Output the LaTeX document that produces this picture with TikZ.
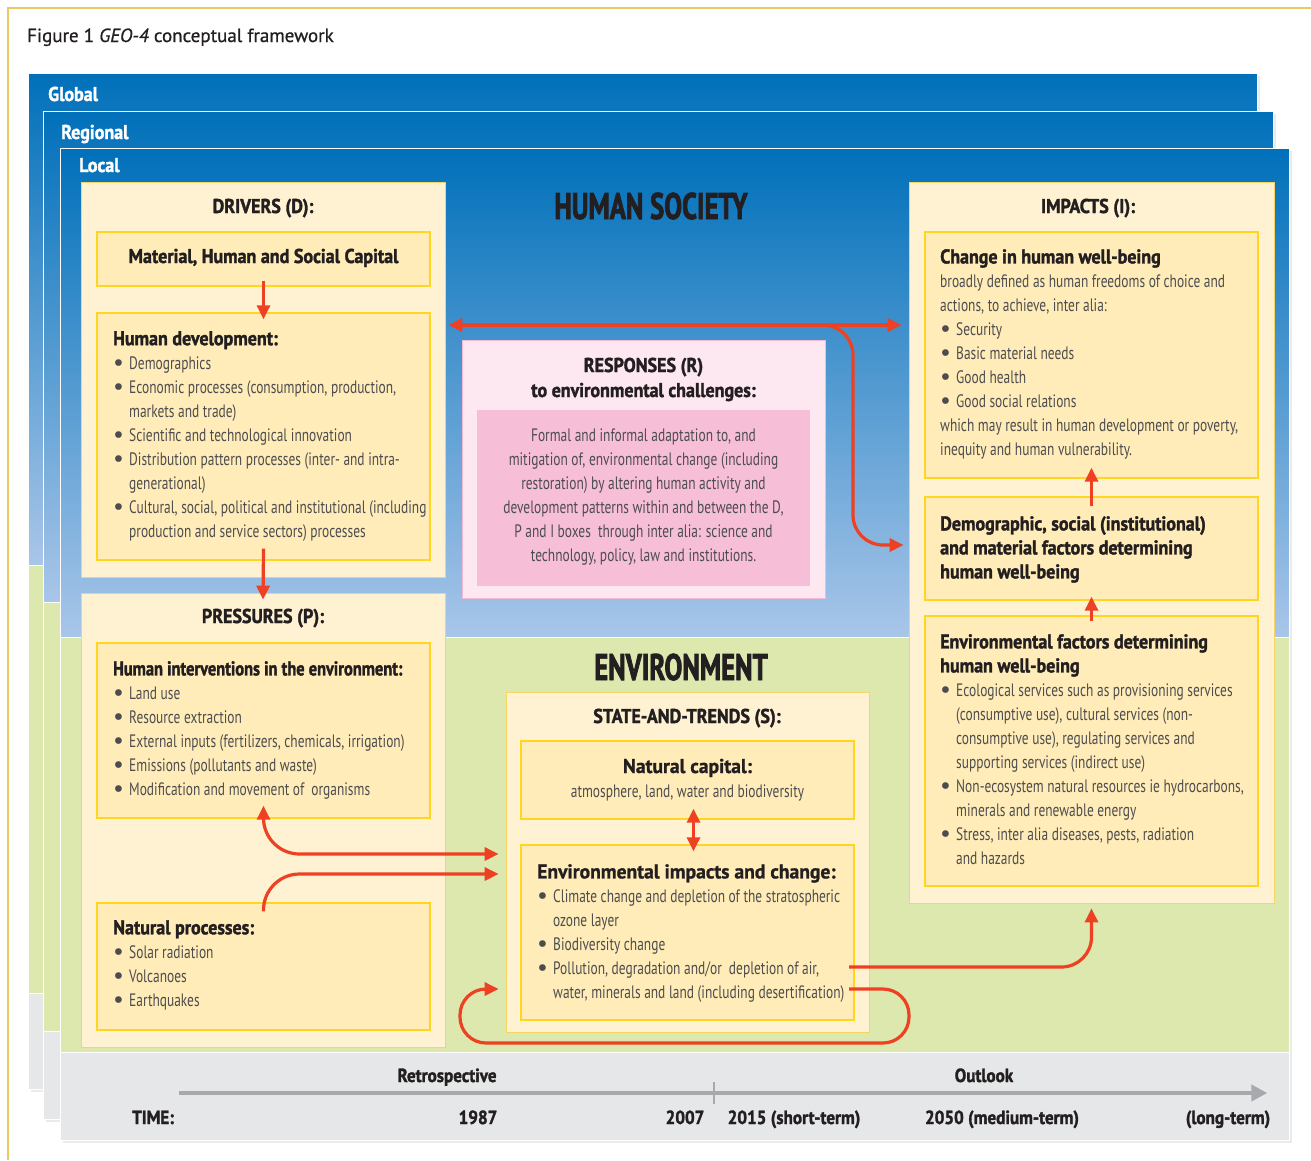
\documentclass[tikz,border=0pt]{standalone}
\usepackage{fontspec}
\setmainfont{PT Sans}[FakeStretch=0.745,BoldFeatures={FakeStretch=0.9,FakeBold=1.6}]
\newfontfamily\titlefont{PT Sans}[FakeBold=0.8]
\newfontfamily\dotfont{PT Sans}
\newfontfamily\bigfont{PT Sans}[FakeStretch=0.72,BoldFeatures={FakeBold=2}]
\newfontfamily\tightfont{PT Sans}[FakeStretch=0.82,BoldFeatures={FakeBold=1.6}]
\newfontfamily\widefont{PT Sans}[FakeStretch=0.98,BoldFeatures={FakeBold=1}]
\usetikzlibrary{arrows.meta}

\definecolor{frame}{HTML}{EBC766}
\definecolor{bluetop}{HTML}{0070BA}
\definecolor{bluemid}{HTML}{5896D2}
\definecolor{bluebot}{HTML}{A9C6E9}
\definecolor{leaf}{HTML}{DCE8AD}
\definecolor{mist}{HTML}{E6E7E8}
\definecolor{cream}{HTML}{FFF2D3}
\definecolor{outline}{HTML}{F6D565}
\definecolor{boxfill}{HTML}{FFECB8}
\definecolor{boxline}{HTML}{FFD520}
\definecolor{blush}{HTML}{FDE8F1}
\definecolor{blushline}{HTML}{F4B8D3}
\definecolor{rose}{HTML}{F7BED8}
\definecolor{arrred}{HTML}{EE4023}
\definecolor{ink}{HTML}{231F20}
\definecolor{greytext}{HTML}{4D4D4F}
\definecolor{timegrey}{HTML}{A7A9AC}

\newcommand\bul{\makebox[16pt][l]{\raisebox{-1pt}{\dotfont\fontsize{24}{24}\selectfont\textbullet}}}
\newcommand\ind{\hspace*{16pt}}

\begin{document}
\begin{tikzpicture}[x=1pt, y=-1pt,
  >={Triangle[length=14pt,width=13pt]},
  outbox/.style={draw=outline, fill=cream, line width=0.8pt, inner sep=0pt},
  inbox/.style={draw=boxline, fill=boxfill, line width=1.4pt, inner sep=0pt},
  pinkbox/.style={draw=blushline, fill=blush, line width=0.8pt, inner sep=0pt},
  head/.style={font=\bfseries\fontsize{20}{24}\selectfont, text=ink, inner sep=0pt, anchor=base},
  body/.style={font=\fontsize{18}{24}\selectfont, text=greytext, align=left, inner sep=0pt, anchor=north west},
  layer/.style={font=\bfseries\fontsize{20}{24}\selectfont, text=white, inner sep=0pt, anchor=base west},
  big/.style={font=\bigfont\bfseries\fontsize{37}{40}\selectfont, text=ink, inner sep=0pt, anchor=base},
  tick/.style={font=\bfseries\fontsize{19}{22}\selectfont, text=ink, inner sep=0pt, anchor=base},
  flow/.style={draw=arrred, line width=3.2pt, rounded corners=30pt}]

  \useasboundingbox (0,0) rectangle (1311,1160);
  \fill[white] (0,0) rectangle (1311,1160);
  \draw[frame, line width=1.2pt] (8,1160) -- (8,8) -- (1311,8);
  \node (fig) at (27,42) [anchor=base west, inner sep=0pt, text=ink,
    font=\titlefont\fontsize{19}{22}\selectfont] {Figure 1 \textit{GEO-4} conceptual framework};

  \foreach \l/\t/\r/\b/\g/\s in {28/73/1257/565/993/1089, 43/111/1273/602/1031/1119, 60/148/1289/637/1052/1140} {
    \fill[black!8] ({\l+3},{\t+3}) rectangle ({\r+3},{\s+3});
    \fill[top color=bluetop, middle color=bluemid, bottom color=bluebot] (\l,\t) rectangle (\r,\b);
    \fill[leaf] (\l,\b) rectangle (\r,\g);
    \fill[mist] (\l,\g) rectangle (\r,\s);
    \draw[white, line width=1pt] (\l,\t) rectangle (\r,\s) (\l,\b) -- (\r,\b) (\l,\g) -- (\r,\g);
  }

  \node (glob) at (48,101) [layer] {Global};
  \node (regi) at (61,139) [layer] {Regional};
  \node (loca) at (79,172) [layer] {Local};

  \node (hsoc) at (651,219) [big] {HUMAN SOCIETY};
  \node (envr) at (681,680) [big] {ENVIRONMENT};

  % drivers
  \node (drv) at (263,379.5) [outbox, minimum width=364pt, minimum height=395pt] {};
  \node (drvt) at (263,213) [head] {DRIVERS (D):};
  \node (cap) at (263.5,259) [inbox, minimum width=333pt, minimum height=54pt] {};
  \node (capt) at (263.5,263) [head] {Material, Human and Social Capital};
  \node (hdev) at (263.5,436.5) [inbox, minimum width=333pt, minimum height=247pt] {};
  \node (hdevt) at (113,331) [body] {\textbf{\textcolor{ink}{\fontsize{20}{24}\selectfont Human development:}}\\
    \bul Demographics\\
    \bul Economic processes (consumption, production,\\
    \ind markets and trade)\\
    \bul Scientific and technological innovation\\
    \bul Distribution pattern processes (inter- and intra-\\
    \ind generational)\\
    \bul Cultural, social, political and institutional (including\\
    \ind production and service sectors) processes};

  % pressures
  \node (pres) at (263,820) [outbox, minimum width=364pt, minimum height=454pt] {};
  \node (prest) at (263,623) [head] {PRESSURES (P):};
  \node (hint) at (263.5,730.5) [inbox, minimum width=333pt, minimum height=175pt] {};
  \node (hintt) at (113,661) [body] {\textbf{\textcolor{ink}{\tightfont\fontsize{20}{24}\selectfont Human interventions in the environment:}}\\
    \bul Land use\\
    \bul Resource extraction\\
    \bul External inputs (fertilizers, chemicals, irrigation)\\
    \bul Emissions (pollutants and waste)\\
    \bul Modification and movement of\ \ organisms};
  \node (nat) at (263.5,966.5) [inbox, minimum width=333pt, minimum height=127pt] {};
  \node (natt) at (113,920) [body] {\textbf{\textcolor{ink}{\fontsize{20}{24}\selectfont Natural processes:}}\\
    \bul Solar radiation\\
    \bul Volcanoes\\
    \bul Earthquakes};

  % responses
  \node (resp) at (643.5,469) [pinkbox, minimum width=363pt, minimum height=258pt] {};
  \node (respt) at (643.5,372) [head] {RESPONSES (R)};
  \node (respu) at (643.5,397) [head] {to environmental challenges:};
  \node (rbox) at (643.5,498) [fill=rose, inner sep=0pt, minimum width=333pt, minimum height=176pt] {};
  \node (rboxt) at (643.5,429) [body, align=center, anchor=north] {Formal and informal adaptation to, and\\
    mitigation of, environmental change (including\\
    restoration) by altering human activity and\\
    development patterns within and between the D,\\
    P and I boxes\ \ through inter alia: science and\\
    technology, policy, law and institutions.};

  % impacts
  \node (imp) at (1091.5,542.5) [outbox, minimum width=365pt, minimum height=721pt] {};
  \node (impt) at (1088,213) [head] {IMPACTS (I):};
  \node (chg) at (1091.5,355) [inbox, minimum width=333pt, minimum height=246pt] {};
  \node (chgt) at (940,249) [body] {\textbf{\textcolor{ink}{\fontsize{20}{24}\selectfont Change in human well-being}}\\
    broadly defined as human freedoms of choice and\\
    actions, to achieve, inter alia:\\
    \bul Security\\
    \bul Basic material needs\\
    \bul Good health\\
    \bul Good social relations\\
    which may result in human development or poverty,\\
    inequity and human vulnerability.};
  \node (dem) at (1091.5,548.5) [inbox, minimum width=333pt, minimum height=103pt] {};
  \node (demt) at (940,516) [body, text=ink, font=\bfseries\fontsize{20}{24}\selectfont] {Demographic, social (institutional)\\
    and material factors determining\\
    human well-being};
  \node (envf) at (1091.5,751) [inbox, minimum width=333pt, minimum height=270pt] {};
  \node (envft) at (940,634) [body] {\textbf{\textcolor{ink}{\fontsize{20}{24}\selectfont Environmental factors determining}}\\
    \textbf{\textcolor{ink}{\fontsize{20}{24}\selectfont human well-being}}\\
    \bul Ecological services such as provisioning services\\
    \ind (consumptive use), cultural services (non-\\
    \ind consumptive use), regulating services and\\
    \ind supporting services (indirect use)\\
    \bul Non-ecosystem natural resources ie hydrocarbons,\\
    \ind minerals and renewable energy\\
    \bul Stress, inter alia diseases, pests, radiation\\
    \ind and hazards};

  % state and trends
  \node (state) at (687.5,862) [outbox, minimum width=363pt, minimum height=340pt] {};
  \node (statet) at (687,723) [head] {STATE-AND-TRENDS (S):};
  \node (natc) at (687.5,780) [inbox, minimum width=333pt, minimum height=78pt] {};
  \node (natct) at (687.5,773) [head, font=\widefont\bfseries\fontsize{20}{24}\selectfont] {Natural capital:};
  \node (natcu) at (687.5,797) [anchor=base, inner sep=0pt, text=greytext, font=\fontsize{18}{24}\selectfont] {atmosphere, land, water and biodiversity};
  \node (envi) at (687.5,932.5) [inbox, minimum width=333pt, minimum height=175pt] {};
  \node (envit) at (537,864) [body] {\textbf{\textcolor{ink}{\widefont\fontsize{20}{24}\selectfont Environmental impacts and change:}}\\
    \bul Climate change and depletion of the stratospheric\\
    \ind ozone layer\\
    \bul Biodiversity change\\
    \bul Pollution, degradation and/or\ \ depletion of air,\\
    \ind water, minerals and land (including desertification)};

  % time
  \node (retro) at (447,1082) [tick] {Retrospective};
  \node (outl) at (984,1082) [tick] {Outlook};
  \node (tstart) at (178,1093) [inner sep=0pt] {};
  \node (tend) at (1268,1093) [inner sep=0pt] {};
  \draw [->, timegrey, line width=4pt, >={Triangle[length=16pt,width=16pt]}] (tstart) -- (tend);
  \draw [timegrey, line width=2pt] (714,1082) -- (714,1104);
  \node (time) at (153,1124) [tick] {TIME:};
  \node (y87) at (478,1124) [tick] {1987};
  \node (y07) at (685,1124) [tick] {2007};
  \node (y15) at (794,1124) [tick] {2015 (short-term)};
  \node (y50) at (1002,1124) [tick] {2050 (medium-term)};
  \node (ylong) at (1228,1124) [tick] {(long-term)};

  % connectors
  \coordinate (rt) at (0,325);
  \coordinate (rsplit) at (815,325);
  \coordinate (rbend) at (853,0);
  \coordinate (rlow) at (0,545);
  \coordinate (pA) at (0,854);
  \coordinate (pB) at (0,874);
  \coordinate (lineA) at (849,967);
  \coordinate (lineB) at (849,989);
  \coordinate (loopR) at (909,1043);
  \coordinate (loopL) at (460,1043);

  \draw [->, flow] ([yshift=6pt]cap.south) -- ([yshift=-7pt]hdev.north);
  \draw [->, flow] ([yshift=12pt]hdev.south) -- ([yshift=-7pt]pres.north);
  \draw [<->, flow] ([xshift=3pt]drv.east |- rt) -- ([xshift=-7pt]imp.west |- rt);
  \draw [->, flow] (rsplit) -- (rbend |- rt) -- (rbend |- rlow) -- ([xshift=-5pt]imp.west |- rlow);
  \draw [<->, flow, rounded corners=36pt] ([yshift=13pt]hint.south) -- (hint.south |- pA) -- ([xshift=-7pt]state.west |- pA);
  \draw [->, flow, rounded corners=36pt] ([yshift=-9pt]nat.north) -- (nat.north |- pB) -- ([xshift=-7pt]state.west |- pB);
  \draw [<->, flow] ([xshift=6pt, yshift=11pt]natc.south) -- ([xshift=6pt, yshift=-7pt]envi.north);
  \draw [->, flow, rounded corners=26pt] (lineB) -| (loopR) -- (loopL) |- ([xshift=-7pt]state.west |- lineB);
  \draw [->, flow] (lineA) -| ([yshift=-5pt]imp.south);
  \draw [->, flow] ([yshift=-10pt]dem.north) -- ([yshift=11pt]chg.south);
  \draw [->, flow] ([yshift=-6pt]envf.north) -- ([yshift=4pt]dem.south);
\end{tikzpicture}
\end{document}
